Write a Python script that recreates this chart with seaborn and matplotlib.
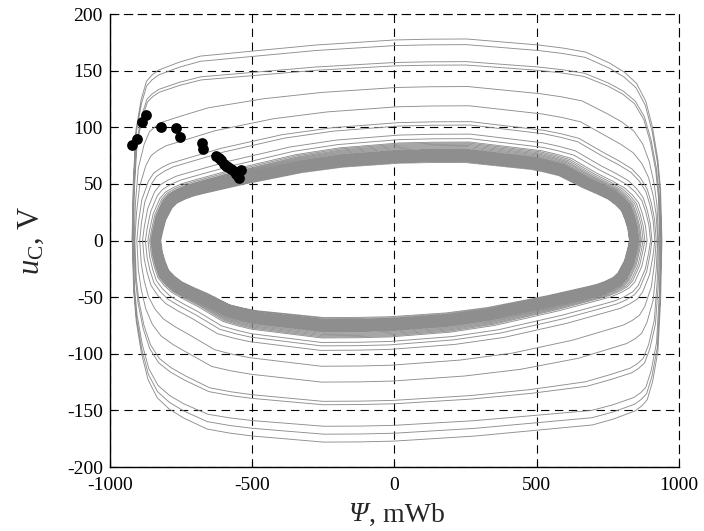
import numpy as np
import pandas as pd
import matplotlib
matplotlib.use("Agg")
import matplotlib.pyplot as plt
import seaborn as sns

# ---------------- data ----------------
# outer (decaying) half-cycles: amplitude of top / bottom halves at psi ~ 0 (V)
outer_top_u = [178, 173, 158, 155, 136, 119, 105, 102, 94, 90]
outer_bot_u = [178, 171, 164, 145, 142, 125, 111, 97, 93, 90]
# left / right turning points of each cycle (mWb, magnitude)
outer_left = [922, 921, 920, 918, 915, 912, 905, 895, 885, 875]
outer_right = [940, 938, 935, 932, 928, 925, 920, 915, 905, 900]

# dense steady-state band
band_top_u = [87, 86, 85, 84, 83, 82, 81, 80, 80, 79, 79, 78, 78, 77, 77, 76, 76, 75,
              75, 74, 74, 73, 73, 72, 72, 71, 71, 70, 70, 69, 76, 78, 74, 80, 73, 77]
band_bot_u = [86, 85, 84, 83, 82, 81, 80, 80, 79, 79, 78, 78, 77, 77, 76, 76, 75, 75,
              74, 74, 73, 73, 72, 72, 71, 71, 70, 70, 69, 68, 77, 75, 79, 73, 78, 74]
band_left = [866, 860, 856, 853, 850, 848, 846, 845, 844, 843, 842, 841, 840, 839, 838, 837,
             836, 835, 834, 833, 832, 831, 830, 829, 828, 827, 826, 825, 823, 821, 836, 840,
             832, 845, 830, 838]
band_right = [888, 880, 874, 868, 864, 860, 857, 855, 853, 851, 849, 847, 845, 843, 841, 840,
              839, 838, 837, 836, 835, 834, 833, 832, 831, 830, 829, 828, 827, 826, 840, 845,
              835, 852, 833, 842]

# normalised top-half contour of an outer loop and of a band loop (psi/edge, u/amplitude)
outer_shape_x = [-1.000, -0.995, -0.985, -0.965, -0.945, -0.925, -0.900, -0.820, -0.740,
                 -0.540, -0.300, 0.000, 0.130, 0.270, 0.540, 0.630, 0.715, 0.805, 0.860,
                 0.905, 0.940, 0.965, 0.985, 0.995, 1.000]
outer_shape_u = [0.00, 0.30, 0.55, 0.70, 0.79, 0.82, 0.845, 0.885, 0.915,
                 0.94, 0.97, 0.995, 0.999, 1.00, 0.97, 0.955, 0.935, 0.88, 0.835,
                 0.78, 0.69, 0.56, 0.40, 0.25, 0.00]
inner_shape_x = [-1.000, -0.993, -0.979, -0.951, -0.930, -0.896, -0.860, -0.813, -0.646,
                 -0.396, -0.220, 0.020, 0.150, 0.298, 0.583, 0.640, 0.700, 0.799, 0.860,
                 0.909, 0.940, 0.966, 0.981, 0.993, 1.000]
inner_shape_u = [0.00, 0.10, 0.26, 0.42, 0.48, 0.53, 0.57, 0.605, 0.72,
                 0.87, 0.94, 0.99, 0.998, 1.00, 0.91, 0.875, 0.83, 0.68, 0.60,
                 0.53, 0.46, 0.38, 0.27, 0.15, 0.00]

# black markers
dots_psi = [-921, -904, -886, -874, -819, -769, -754, -675, -672, -628, -618, -610,
            -600, -593, -585, -575, -565, -558, -550, -546, -540]
dots_u = [84, 90, 105, 111, 100, 99, 91, 86, 81, 75, 73, 71,
          68, 66, 65, 63, 61, 59, 57, 55, 62]

x_ticks = [-1000, -500, 0, 500, 1000]
y_ticks = [-200, -150, -100, -50, 0, 50, 100, 150, 200]

# ---------------- build trajectory ----------------
tops = outer_top_u + band_top_u
bots = outer_bot_u + band_bot_u
lefts = outer_left + band_left
rights = outer_right + band_right

ox, ou = np.array(outer_shape_x), np.array(outer_shape_u)
ix, iu = np.array(inner_shape_x), np.array(inner_shape_u)


def half(U):
    w = float(np.clip((U - 85.0) / (155.0 - 85.0), 0, 1))
    return w * ox + (1 - w) * ix, (w * ou + (1 - w) * iu) * U


psi_all, u_all = [], []
n = len(tops)
for i in range(n):
    L, R = lefts[i], rights[i]
    Lnext = lefts[i + 1] if i + 1 < n else lefts[i]
    x, u = half(tops[i])
    psi_all += list(np.where(x < 0, x * L, x * R))
    u_all += list(u)
    x, u = half(bots[i])
    psi_all += list(np.where(x < 0, -x * R, -x * Lnext))
    u_all += list(-u)

traj = pd.DataFrame({"psi": psi_all, "u": u_all})
dots = pd.DataFrame({"psi": dots_psi, "u": dots_u})

# ---------------- plot ----------------
sns.set_theme(style="white")
plt.rcParams["font.family"] = ["Liberation Serif", "DejaVu Serif"]
plt.rcParams["mathtext.fontset"] = "custom"
plt.rcParams["mathtext.rm"] = "Liberation Serif"
plt.rcParams["mathtext.it"] = "Liberation Serif:italic"
plt.rcParams["lines.scale_dashes"] = False

fig = plt.figure(figsize=(7.04, 5.31), dpi=100)
ax = fig.add_axes([0.156, 0.1205, 0.8085, 0.853])

sns.lineplot(data=traj, x="psi", y="u", sort=False, estimator=None,
             color="#8e8e8e", lw=0.65, ax=ax, zorder=2)
sns.scatterplot(data=dots, x="psi", y="u", color="black", s=60,
                edgecolor="black", linewidth=0, ax=ax, zorder=3)

ax.set_xlim(-1000, 1000)
ax.set_ylim(-200, 200)
ax.set_xticks(x_ticks)
ax.set_yticks(y_ticks)
ax.set_xticklabels([str(t) for t in x_ticks])
ax.set_yticklabels([str(t) for t in y_ticks])
ax.grid(True, color="black", linestyle=(0, (6, 4)), linewidth=0.8)
ax.set_axisbelow(True)

for s in ["left", "bottom"]:
    ax.spines[s].set_color("black")
    ax.spines[s].set_linewidth(1.0)
for s in ["top", "right"]:
    ax.spines[s].set_color("black")
    ax.spines[s].set_linewidth(0.8)
    ax.spines[s].set_linestyle((0, (6, 4)))

ax.tick_params(axis="both", direction="in", length=4, width=0.8, colors="black",
               labelsize=14, bottom=True, left=True, top=False, right=False)
ax.tick_params(axis="x", pad=7)
ax.tick_params(axis="y", pad=5)

# x label: italic Psi followed by upright unit
ax.set_xlabel("")
fig.text(0.522, 0.018, "Ψ", fontsize=20, fontstyle="italic", ha="right", va="baseline")
fig.text(0.524, 0.018, ", mWb", fontsize=20, ha="left", va="baseline")
ax.set_ylabel(r"$\mathit{u}_{\mathrm{C}}$, V", fontsize=22, labelpad=15)

fig.savefig("out.png", dpi=100)
